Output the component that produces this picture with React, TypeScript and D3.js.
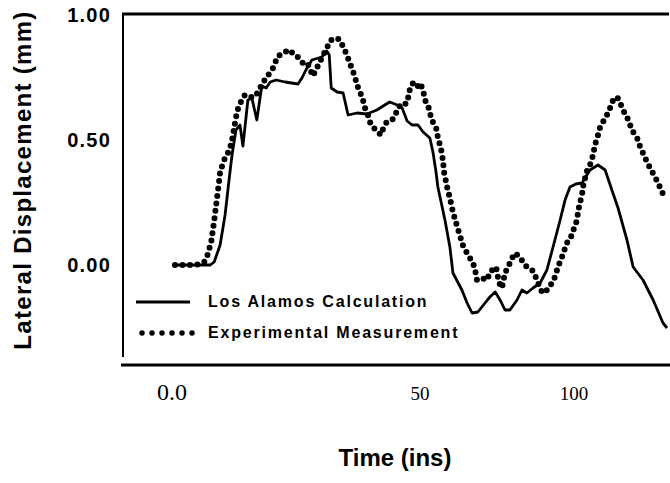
import React from "react";
import * as d3 from "d3";

// Time axis (ins) tick values and labels
const xTickValues = [0, 50, 100];
const xTickLabels = ["0.0", "50", "100"];
// Displacement axis (mm)
const yTickValues = [0, 0.5, 1];
const yTickLabels = ["0.00", "0.50", "1.00"];

const seriesNames = ["Los Alamos Calculation", "Experimental Measurement"];

// Los Alamos Calculation: [time, displacement]
const calcTime = [0.6, 7.7, 8.5, 9.7, 10.7, 11.5, 12.1, 12.9, 13.7, 14.3, 15.3, 16.1, 17.1, 18.1, 19.0, 19.8, 21.0, 22.8, 25.4, 26.2, 27.0, 28.2, 30.2, 31.2, 31.7, 32.1, 33.3, 34.5, 35.5, 37.3, 39.3, 41.3, 42.9, 43.9, 45.4, 46.4, 47.4, 48.4, 49.6, 51.0, 53.2, 54.2, 55.2, 55.8, 58.1, 59.7, 60.7, 63.6, 65.3, 66.9, 68.8, 71.1, 72.7, 74.4, 76.0, 77.6, 79.2, 81.5, 83.1, 84.7, 86.7, 89.0, 91.2, 93.2, 95.5, 97.1, 98.7, 100.6, 102.6, 105.2, 107.8, 110.1, 112.3, 114.3, 117.2, 119.2, 122.4, 125.7, 128.9, 130.2];
const calcValue = [0, 0, 0.012, 0.08, 0.2, 0.34, 0.44, 0.54, 0.56, 0.476, 0.66, 0.668, 0.58, 0.716, 0.708, 0.732, 0.74, 0.732, 0.724, 0.748, 0.78, 0.82, 0.832, 0.856, 0.84, 0.708, 0.692, 0.688, 0.6, 0.608, 0.604, 0.62, 0.64, 0.652, 0.64, 0.628, 0.576, 0.56, 0.56, 0.532, 0.508, 0.452, 0.372, 0.312, 0.18, 0.072, -0.032, -0.1, -0.152, -0.192, -0.188, -0.152, -0.128, -0.108, -0.14, -0.18, -0.18, -0.14, -0.1, -0.112, -0.092, -0.072, -0.02, 0.072, 0.18, 0.26, 0.312, 0.324, 0.328, 0.38, 0.4, 0.38, 0.3, 0.228, 0.1, -0.008, -0.06, -0.14, -0.232, -0.252];

// Experimental Measurement: [time, displacement]
const expTime = [0.6, 1.6, 2.6, 3.6, 4.6, 5.6, 6.5, 7.1, 7.5, 7.9, 8.1, 8.3, 8.5, 8.7, 8.9, 9.1, 9.3, 9.5, 9.7, 10.1, 10.5, 11.1, 11.7, 12.1, 12.4, 12.7, 13.0, 13.4, 14.1, 14.7, 15.7, 16.7, 17.3, 18.1, 18.7, 19.4, 20.2, 20.8, 21.2, 21.8, 22.8, 23.8, 24.4, 25.2, 26.0, 26.8, 27.4, 28.0, 28.4, 29.2, 29.8, 30.4, 31.2, 32.1, 33.1, 33.9, 34.5, 35.1, 35.7, 36.3, 36.9, 37.3, 37.9, 38.5, 38.9, 39.5, 39.9, 40.5, 41.3, 42.1, 42.7, 43.3, 44.4, 45.0, 45.6, 46.4, 47.2, 47.6, 48.0, 48.6, 49.4, 50.0, 51.0, 51.6, 52.6, 53.2, 54.2, 55.5, 55.8, 56.5, 57.1, 57.5, 57.8, 58.8, 59.7, 60.7, 62.0, 63.0, 64.0, 65.6, 67.2, 67.9, 68.5, 69.8, 71.8, 72.7, 74.7, 75.3, 76.0, 76.6, 77.6, 78.6, 79.9, 80.8, 82.5, 83.4, 84.7, 86.4, 87.3, 88.3, 89.6, 90.6, 91.6, 92.9, 93.8, 94.8, 96.1, 97.1, 98.1, 99.4, 100.0, 101.0, 101.3, 101.9, 102.6, 102.9, 103.6, 104.2, 105.2, 106.2, 106.8, 107.8, 108.4, 109.4, 110.7, 111.7, 112.7, 114.0, 115.0, 115.9, 117.2, 118.2, 119.2, 120.5, 121.5, 122.4, 123.7, 124.7, 126.3, 127.3, 128.6, 129.2];
const expValue = [0, 0, 0, 0, 0, 0.004, 0.012, 0.036, 0.064, 0.092, 0.12, 0.148, 0.176, 0.208, 0.24, 0.272, 0.304, 0.336, 0.372, 0.396, 0.42, 0.44, 0.468, 0.5, 0.532, 0.568, 0.6, 0.632, 0.66, 0.68, 0.672, 0.672, 0.692, 0.72, 0.74, 0.76, 0.78, 0.808, 0.832, 0.84, 0.852, 0.86, 0.844, 0.836, 0.816, 0.8, 0.804, 0.776, 0.756, 0.788, 0.812, 0.836, 0.868, 0.9, 0.908, 0.9, 0.872, 0.848, 0.816, 0.784, 0.752, 0.72, 0.692, 0.66, 0.628, 0.6, 0.572, 0.552, 0.536, 0.52, 0.552, 0.572, 0.58, 0.6, 0.628, 0.648, 0.644, 0.668, 0.708, 0.728, 0.712, 0.728, 0.7, 0.66, 0.64, 0.608, 0.572, 0.54, 0.508, 0.48, 0.448, 0.412, 0.372, 0.312, 0.268, 0.212, 0.156, 0.116, 0.076, 0.04, 0.008, -0.02, -0.06, -0.052, -0.06, -0.028, -0.008, -0.048, -0.08, -0.092, -0.032, -0.008, 0.028, 0.048, 0.032, 0.012, -0.008, -0.02, -0.04, -0.072, -0.108, -0.112, -0.092, -0.072, -0.048, -0.008, 0.032, 0.068, 0.1, 0.12, 0.148, 0.18, 0.212, 0.248, 0.28, 0.312, 0.348, 0.376, 0.4, 0.44, 0.48, 0.52, 0.548, 0.572, 0.6, 0.628, 0.66, 0.672, 0.648, 0.62, 0.592, 0.56, 0.532, 0.508, 0.472, 0.448, 0.412, 0.388, 0.352, 0.328, 0.292, 0.276];

const W = 670;
const H = 483;
const frame = { left: 123, right: 669, top: 14, bottom: 365, leftEnd: 357 };

export default function App() {
  const x = d3.scaleLinear().domain(xTickValues).range([172, 420, 574]);
  const y = d3.scaleLinear().domain([0, 1]).range([265, 15]);

  const line = d3
    .line<[number, number]>()
    .x((d) => x(d[0]))
    .y((d) => y(d[1]));

  const calc: [number, number][] = calcTime.map((t, i) => [t, calcValue[i]]);
  const exp: [number, number][] = expTime.map((t, i) => [t, expValue[i]]);

  const sans = "'Liberation Sans', Arial, Helvetica, sans-serif";
  const serif = "'Liberation Serif', 'Times New Roman', serif";

  return (
    <svg
      width={W}
      height={H}
      viewBox={`0 0 ${W} ${H}`}
      style={{ position: "absolute", left: 0, top: 0, background: "#fff" }}
    >
      <rect width={W} height={H} fill="#fff" />
      {/* frame */}
      <line x1={frame.left - 1} x2={frame.right} y1={frame.top} y2={frame.top} stroke="#000" strokeWidth={3} />
      <line x1={frame.left} x2={frame.left} y1={frame.top} y2={frame.leftEnd} stroke="#000" strokeWidth={2} />
      <line x1={frame.left - 2} x2={W} y1={frame.bottom} y2={frame.bottom} stroke="#000" strokeWidth={3} />

      {/* y ticks */}
      {yTickValues.map((v, i) => (
        <text
          key={"yt" + i}
          x={111}
          y={y(v)}
          dy="0.36em"
          textAnchor="end"
          fontFamily={sans}
          fontWeight="bold"
          fontSize={20}
          letterSpacing={1.2}
          fill="#000"
        >
          {yTickLabels[i]}
        </text>
      ))}

      {/* x ticks */}
      {xTickValues.map((v, i) => (
        <text
          key={"xt" + i}
          x={x(v)}
          y={400}
          textAnchor="middle"
          fontFamily={serif}
          fontSize={i === 0 ? 24 : 19}
          fill="#000"
        >
          {xTickLabels[i]}
        </text>
      ))}

      {/* axis titles */}
      <text
        x={395}
        y={466}
        textAnchor="middle"
        fontFamily={sans}
        fontWeight="bold"
        fontSize={24}
        fill="#000"
      >
        Time (ins)
      </text>
      <text
        transform={`translate(31,180) rotate(-90)`}
        textAnchor="middle"
        fontFamily={sans}
        fontWeight="bold"
        fontSize={24}
        letterSpacing={1.3}
        fill="#000"
      >
        Lateral Displacement (mm)
      </text>

      {/* series */}
      <path d={line(calc) || ""} fill="none" stroke="#000" strokeWidth={2.8} strokeLinejoin="round" />
      <path
        d={line(exp) || ""}
        fill="none"
        stroke="#000"
        strokeWidth={6}
        strokeLinecap="round"
        strokeDasharray="0 7.5"
      />

      {/* legend */}
      <line x1={136} x2={190} y1={302} y2={302} stroke="#000" strokeWidth={3} />
      <text x={208} y={307} fontFamily={sans} fontWeight="bold" fontSize={16} letterSpacing={1.8} fill="#000">
        {seriesNames[0]}
      </text>
      <line
        x1={142}
        x2={192.5}
        y1={333}
        y2={333}
        stroke="#000"
        strokeWidth={5.5}
        strokeLinecap="round"
        strokeDasharray="0 10"
      />
      <text x={208} y={338} fontFamily={sans} fontWeight="bold" fontSize={16} letterSpacing={1.8} fill="#000">
        {seriesNames[1]}
      </text>
    </svg>
  );
}
